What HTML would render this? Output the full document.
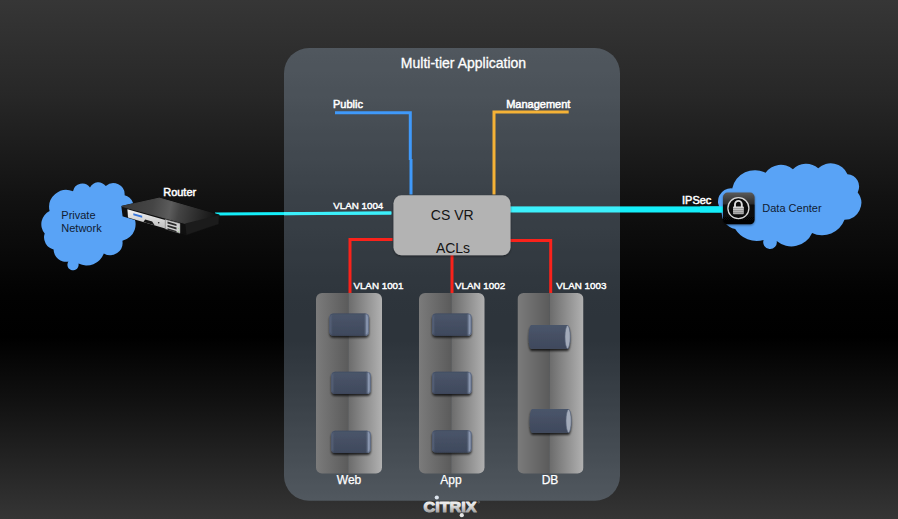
<!DOCTYPE html>
<html><head><meta charset="utf-8"><title>Multi-tier Application</title>
<style>
html,body{margin:0;padding:0;background:#000;}
body{width:898px;height:519px;overflow:hidden;position:relative;}
svg{display:block;position:absolute;left:0;top:0;}
text{font-family:"Liberation Sans",Arial,Helvetica,sans-serif;}
.lbl{fill:#fff;font-size:11px;stroke:#fff;stroke-width:.5px;}
.vl{fill:#fff;font-size:9.8px;stroke:#fff;stroke-width:.42px;}
</style></head><body>
<svg width="898" height="519" viewBox="0 0 898 519">
<defs>
<linearGradient id="bg" x1="0" y1="0" x2="0" y2="1">
<stop offset="0" stop-color="#363636"/>
<stop offset="0.185" stop-color="#272727"/>
<stop offset="0.378" stop-color="#121212"/>
<stop offset="0.57" stop-color="#020202"/>
<stop offset="0.65" stop-color="#000"/>
<stop offset="0.78" stop-color="#121212"/>
<stop offset="1" stop-color="#353535"/>
</linearGradient>
<linearGradient id="colL" x1="0" y1="0" x2="1" y2="0">
<stop offset="0" stop-color="#7b7b7b"/><stop offset="1" stop-color="#5b5b5b"/>
</linearGradient>
<linearGradient id="colR" x1="0" y1="0" x2="1" y2="0">
<stop offset="0" stop-color="#6b6b6b"/><stop offset="1" stop-color="#b1b1b1"/>
</linearGradient>
<linearGradient id="srv" x1="0" y1="0" x2="0" y2="1">
<stop offset="0" stop-color="#4a556a"/><stop offset="1" stop-color="#3f495c"/>
</linearGradient>
<linearGradient id="srvEdge" x1="0" y1="0" x2="1" y2="0">
<stop offset="0" stop-color="#66728a"/><stop offset="0.09" stop-color="#4a566b" stop-opacity="0"/>
<stop offset="0.86" stop-color="#4a566b" stop-opacity="0"/><stop offset="0.94" stop-color="#8a97b0"/><stop offset="1" stop-color="#7f8ca5"/>
</linearGradient>
<linearGradient id="cit" x1="0" y1="0" x2="0" y2="1">
<stop offset="0" stop-color="#ffffff"/><stop offset="0.45" stop-color="#e0e0e0"/><stop offset="1" stop-color="#8a8a8a"/>
</linearGradient>
<filter id="sh" x="-20%" y="-20%" width="140%" height="160%">
<feGaussianBlur in="SourceAlpha" stdDeviation="1.2"/><feOffset dx="0" dy="1.5"/>
<feComponentTransfer><feFuncA type="linear" slope="0.75"/></feComponentTransfer>
<feMerge><feMergeNode/><feMergeNode in="SourceGraphic"/></feMerge>
</filter>
<filter id="sh2" x="-10%" y="-20%" width="120%" height="150%">
<feGaussianBlur in="SourceAlpha" stdDeviation="1"/><feOffset dx="0" dy="1"/>
<feComponentTransfer><feFuncA type="linear" slope="0.45"/></feComponentTransfer>
<feMerge><feMergeNode/><feMergeNode in="SourceGraphic"/></feMerge>
</filter>
<clipPath id="cw"><rect x="316" y="293" width="66" height="180.500" rx="6"/></clipPath>
<clipPath id="ca"><rect x="419" y="293" width="65.500" height="180.500" rx="6"/></clipPath>
<clipPath id="cd"><rect x="517.500" y="293" width="66" height="180.500" rx="6"/></clipPath>
<g id="server">
<rect x="0.300" y="0.200" width="39.500" height="22.300" rx="4" fill="url(#srv)" filter="url(#sh)"/>
<rect x="0.300" y="0.200" width="39.500" height="22.300" rx="4" fill="url(#srvEdge)"/>
<rect x="0.700" y="0.600" width="38.700" height="21.500" rx="3.600" fill="none" stroke="#39445a" stroke-width="0.800" opacity="0.500"/>
</g>
<g id="cyl">
<path d="M2.500,0 H39 A2.800,12 0 0 1 39,24 H2.500 A2.500,12 0 0 1 2.500,0 Z" fill="url(#srv)" filter="url(#sh)"/>
<ellipse cx="39" cy="12" rx="2.600" ry="11.400" fill="#a3abba" stroke="#5b667c" stroke-width="0.600"/>
</g>
</defs>
<rect width="898" height="519" fill="url(#bg)"/>

<!-- left cyan line -->
<line x1="215" y1="214.100" x2="391.300" y2="212.900" stroke="#14eef9" stroke-width="3"/>
<!-- main panel -->
<rect x="284" y="48" width="336" height="452.700" rx="25" fill="rgb(196,226,255)" fill-opacity="0.230"/>
<line x1="284" y1="213.630" x2="391.300" y2="212.900" stroke="#3cf0fb" stroke-width="3"/>
<!-- right cyan -->
<rect x="508" y="206.400" width="112" height="6.100" fill="#3cf0fb"/><rect x="620" y="206.400" width="104" height="6.100" fill="#14eef9"/>

<!-- blue -->
<path d="M335,112.800 H410.300 V160 M411,159 V194.500" fill="none" stroke="#3f99fa" stroke-width="3" stroke-linejoin="miter"/>
<!-- orange -->
<path d="M568.700,112 H494 V194.500" fill="none" stroke="#f5b236" stroke-width="3"/>
<!-- red -->
<path d="M392.600,239.500 H350 V293.500" fill="none" stroke="#fa221b" stroke-width="3"/>
<path d="M452,250 V293.500" fill="none" stroke="#fa221b" stroke-width="3"/>
<path d="M508,240.400 H550.700 V293.500" fill="none" stroke="#fa221b" stroke-width="3"/>

<!-- CS VR box -->
<rect x="393.500" y="195.300" width="117" height="60" rx="8" fill="#b3b3b3" filter="url(#sh2)"/>
<text x="452.200" y="220" font-size="14" text-anchor="middle" fill="#141414">CS VR</text>
<text x="453" y="252.900" font-size="14" text-anchor="middle" fill="#141414">ACLs</text>

<!-- tier columns -->
<g clip-path="url(#cw)"><rect x="316" y="293" width="32.300" height="181" fill="url(#colL)"/><rect x="348.300" y="293" width="33.700" height="181" fill="url(#colR)"/></g>
<g clip-path="url(#ca)"><rect x="419" y="293" width="32.300" height="181" fill="url(#colL)"/><rect x="451.300" y="293" width="33.700" height="181" fill="url(#colR)"/></g>
<g clip-path="url(#cd)"><rect x="517.500" y="293" width="32" height="181" fill="url(#colL)"/><rect x="549.500" y="293" width="34" height="181" fill="url(#colR)"/></g>

<use href="#server" x="329.200" y="313.200"/>
<use href="#server" x="331" y="371.500"/>
<use href="#server" x="331" y="430.500"/>
<use href="#server" x="431.800" y="313.200"/>
<use href="#server" x="431.800" y="371.500"/>
<use href="#server" x="431.800" y="430"/>
<use href="#cyl" x="528.600" y="325"/>
<use href="#cyl" x="529.600" y="409"/>

<!-- labels -->
<text x="463.500" y="67.500" font-size="14" text-anchor="middle" fill="#fff" stroke="#fff" stroke-width=".3">Multi-tier Application</text>
<text class="lbl" x="333" y="107.700">Public</text>
<text class="lbl" x="506.200" y="107.700">Management</text>
<text class="vl" x="333.200" y="208.700">VLAN 1004</text>
<text class="vl" x="353.400" y="289.200">VLAN 1001</text>
<text class="vl" x="455" y="289.200">VLAN 1002</text>
<text class="vl" x="556.300" y="289.200">VLAN 1003</text>
<text class="lbl" x="163.200" y="196">Router</text>
<text class="lbl" x="682" y="204">IPSec</text>
<text x="349" y="484" font-size="12" text-anchor="middle" fill="#fff" stroke="#fff" stroke-width=".25">Web</text>
<text x="451" y="484" font-size="12" text-anchor="middle" fill="#fff" stroke="#fff" stroke-width=".25">App</text>
<text x="550" y="484" font-size="12" text-anchor="middle" fill="#fff" stroke="#fff" stroke-width=".25">DB</text>

<!-- left cloud -->
<path fill="#59a3f6" d="M49.6,211.0 A17.2,17.2 0 0 1 73.0,191.2 A9.5,9.5 0 0 1 90.0,187.5 A9.3,9.3 0 0 1 105.8,186.1 A11.2,11.2 0 0 1 124.6,195.2 A12.0,12.0 0 0 1 131.7,213.4 A16.9,16.9 0 0 1 122.4,240.7 A12.5,12.5 0 0 1 103.8,253.5 A18.3,18.3 0 0 1 78.5,263.6 A5.6,5.6 0 1 1 68.4,261.6 A12.5,12.5 0 0 1 53.6,249.4 A12.2,12.2 0 0 1 44.7,233.6 A14.7,14.7 0 0 1 49.6,211.0 Z"/>
<!-- router -->
<g>
<defs>
<linearGradient id="rtop" gradientUnits="userSpaceOnUse" x1="125" y1="203" x2="214" y2="222">
<stop offset="0" stop-color="#3a3a3a"/><stop offset="0.3" stop-color="#454545"/><stop offset="0.5" stop-color="#5c5c5c"/><stop offset="0.6" stop-color="#444"/><stop offset="0.8" stop-color="#2c2c2c"/><stop offset="1" stop-color="#141414"/>
</linearGradient>
<linearGradient id="rsil" gradientUnits="userSpaceOnUse" x1="0" y1="209" x2="0" y2="229">
<stop offset="0" stop-color="#f4f4f4"/><stop offset="1" stop-color="#bdbdbd"/>
</linearGradient>
<clipPath id="rtc"><path d="M159.300,198.100 L122.100,206.400 L185.300,223.500 L218.900,215.300 Z"/></clipPath>
</defs>
<path d="M122.100,206.400 L159.300,198.100 L218.900,215.300 L218.400,224.100 L186.500,234.700 L123.300,215.800 Z" fill="#101010" stroke="#101010" stroke-width="1.500" stroke-linejoin="round"/>
<path d="M159.300,198.100 L122.100,206.400 L185.300,223.500 L218.900,215.300 Z" fill="url(#rtop)" stroke="url(#rtop)" stroke-width="1" stroke-linejoin="round"/>
<path d="M185.300,223.500 L218.900,215.300 L218.400,224.100 L186.500,234.700 Z" fill="#1b1b1b"/>
<path d="M127.400,209.300 L165.200,220 L165.200,228.400 L128,217.600 Z" fill="url(#rsil)"/>
<path d="M145.200,219.400 L152.200,221.400 L154.600,225.300 L143.400,222.100 Z" fill="#151515"/>
<path d="M133.300,213.300 L142.200,215.800 L142.200,217.700 L133.300,215.200 Z" fill="#3a78dc"/>
<circle cx="158.700" cy="222.800" r="0.800" fill="#222"/>
<path d="M165.200,219.400 L180,223.500 L180,233.300 L165.200,228.800 Z" fill="#cfcfcf" stroke="#8a8a8a" stroke-width="0.500"/>
<path d="M167.500,221.600 L176.500,224.200 L176.500,226 L167.500,223.400 Z M167.500,225 L176.500,227.600 L176.500,229.400 L167.500,226.800 Z M167.500,228.300 L176.500,230.900 L176.500,232.400 L167.500,229.800 Z" fill="#2a2a2a"/>
<circle cx="178.300" cy="228.300" r="0.450" fill="#7bd35a"/><circle cx="178.300" cy="231.400" r="0.450" fill="#7bd35a"/>
</g>
<text x="61.300" y="218.500" font-size="11" fill="#101b33">Private</text>
<text x="61.300" y="232.200" font-size="11" fill="#101b33">Network</text>

<!-- right cloud -->
<path fill="#59a3f6" d="M732.2,188.4 A23.2,23.2 0 0 1 765.6,172.8 A18.7,18.7 0 0 1 792.9,169.2 A18.4,18.4 0 0 1 818.2,168.2 A18.4,18.4 0 0 1 847.5,174.2 A12.4,12.4 0 0 1 857.7,192.4 A17.0,17.0 0 0 1 844.5,219.8 A23.7,23.7 0 0 1 812.1,232.9 A22.7,22.7 0 0 1 776.7,241.0 A6.8,6.8 0 1 1 763.6,240.0 A25.4,25.4 0 0 1 735.2,228.9 A16.7,16.7 0 0 1 721.7,210.6 A13.1,13.1 0 0 1 732.2,188.4 Z"/>
<!-- lock icon -->
<rect x="700" y="206.400" width="24" height="6.100" fill="#14eef9"/>
<g>
<defs>
<linearGradient id="lkbg" x1="0" y1="0" x2="0" y2="1"><stop offset="0" stop-color="#5a5a5a"/><stop offset="0.36" stop-color="#2b2b2b"/><stop offset="0.4" stop-color="#0a0a0a"/><stop offset="1" stop-color="#050505"/></linearGradient>
<linearGradient id="lkb" x1="0" y1="0" x2="0" y2="1"><stop offset="0" stop-color="#e4e4e4"/><stop offset="1" stop-color="#a4a4a4"/></linearGradient>
</defs>
<rect x="723" y="192.600" width="31.600" height="31.600" rx="4.500" fill="url(#lkbg)" filter="url(#sh2)"/>
<circle cx="738.400" cy="208.200" r="10.500" fill="#0b0b0b" stroke="#d8d8d8" stroke-width="1.300"/>
<path d="M735,207 V204.300 A3.400,3.400 0 0 1 741.800,204.300 V207" fill="none" stroke="#dcdcdc" stroke-width="1.900"/>
<rect x="733" y="206.400" width="10.800" height="7.900" rx="0.800" fill="url(#lkb)"/>
<path d="M733,208.400 H743.800 M733,210.400 H743.800 M733,212.400 H743.800" stroke="#808080" stroke-width="0.700"/>
</g>
<text x="762.300" y="212.200" font-size="11" fill="#101b33">Data Center</text>

<!-- citrix -->
<text x="423.600" y="512" font-size="15.500" font-weight="bold" fill="url(#cit)" stroke="url(#cit)" stroke-width="1.100" stroke-linejoin="round" textLength="52.800" lengthAdjust="spacingAndGlyphs">CITRIX</text>
<circle cx="436.800" cy="497.500" r="2.100" fill="#dde5ee"/>
<circle cx="461.800" cy="515.200" r="2.100" fill="#e6e6e6"/>
<circle cx="478.700" cy="502.200" r="0.900" fill="none" stroke="#999" stroke-width="0.400"/>
</svg>
</body></html>
